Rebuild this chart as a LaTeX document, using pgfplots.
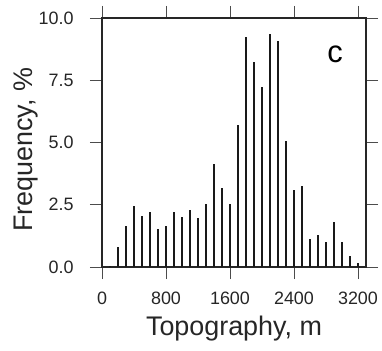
\documentclass[border=0pt]{standalone}
\usepackage{fontspec}
\setmainfont{Liberation Sans}
\usepackage{pgfplots}
\pgfplotsset{compat=1.18}
\pgfplotstableread{
x y
100 0.05
200 0.82
300 1.65
400 2.46
500 2.05
600 2.21
700 1.54
800 1.65
900 2.21
1000 2.00
1100 2.28
1200 1.98
1300 2.52
1400 4.14
1500 3.19
1600 2.53
1700 5.69
1800 9.25
1900 8.22
2000 7.24
2100 9.36
2200 9.09
2300 5.06
2400 3.09
2500 3.25
2600 1.12
2700 1.29
2800 1.00
2900 1.82
3000 0.99
3100 0.44
3200 0.15
}\datatable
\begin{document}
\begin{tikzpicture}
\begin{axis}[
 name=ax,
 scale only axis, width=264bp, height=249bp,
 xmin=0, xmax=3300, ymin=0, ymax=10,
 xtick={0,800,1600,2400,3200},
 ytick={0,2.5,5,7.5,10},
 tick align=outside, tick pos=both,
 major tick length=12bp,
 axis line style={line width=1.4bp, color=black!85},
 every tick/.style={line width=0.9bp, color=black!70},
 /pgf/number format/assume math mode=true,
 /pgf/number format/1000 sep={},
 tick label style={font=\fontsize{18}{20}\selectfont, text=black!85},
 yticklabel style={/pgf/number format/fixed, /pgf/number format/fixed zerofill, /pgf/number format/precision=1, xshift=-13bp},
 xticklabel style={yshift=-9bp},
 label style={font=\fontsize{27}{30}\selectfont, text=black!85},
 xlabel={Topography, m}, ylabel={Frequency, \%},
 xlabel style={at={(axis description cs:0.5,-0.277)}, anchor=base},
 ylabel style={at={(axis description cs:-0.265,0.47)}, anchor=base},
]
\addplot[ycomb, line width=2.5bp, black!90, no markers] table[x=x,y=y] {\datatable};
\node[font=\fontsize{31}{31}\selectfont, anchor=base] at (rel axis cs:0.883,0.823) {c};
\end{axis}
\pgfresetboundingbox
\path[use as bounding box] ([xshift=-102bp,yshift=-84bp]ax.south west) rectangle ([xshift=16bp,yshift=18bp]ax.north east);
\end{tikzpicture}
\end{document}
